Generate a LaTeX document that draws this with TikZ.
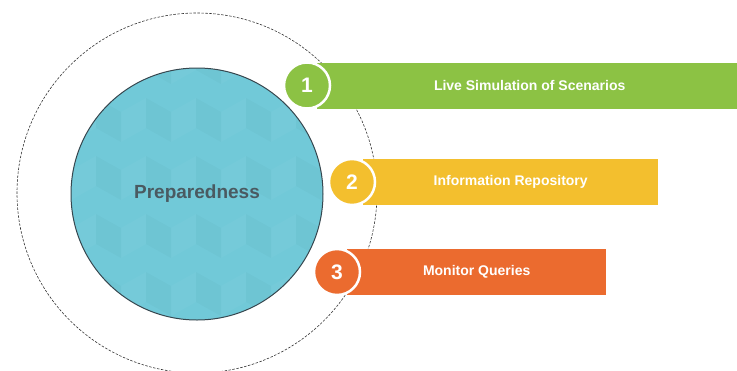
\documentclass[tikz,border=0pt]{standalone}
\usepackage{fontspec}
\setmainfont{Liberation Sans}
\usepackage{xcolor}
\usepackage{tikz}
\usetikzlibrary{positioning}

\definecolor{coreTeal}{HTML}{71C9D8}
\definecolor{coreEdge}{HTML}{37474F}
\definecolor{coreText}{HTML}{4A5A61}
\definecolor{barGreen}{HTML}{8CC244}
\definecolor{barYellow}{HTML}{F3BF2E}
\definecolor{barOrange}{HTML}{EB6B2F}

\begin{document}
\begin{tikzpicture}[x=1pt, y=-1pt,
    core/.style={draw=coreEdge, line width=1pt, circle, fill=coreTeal, minimum size=252pt, inner sep=0pt},
    coretext/.style={text=coreText, font=\fontsize{19}{22}\selectfont\bfseries},
    ring/.style={draw=black!80, circle, minimum size=360pt, inner sep=0pt, line width=0.6pt,
      dash pattern=on 2.5pt off 1.5pt},
    bar/.style={rectangle, anchor=west, minimum height=46pt, inner sep=0pt, text=white,
      font=\fontsize{14}{16}\selectfont\bfseries},
    badge/.style={circle, draw=white, line width=2.5pt, minimum size=46pt, inner sep=0pt, text=white,
      font=\fontsize{21}{24}\selectfont\bfseries}]
  \useasboundingbox (0,0) rectangle (737,370);

  \node[ring] (ring) at (197,193) {};

  \node[core] (prep) at (197,194) {};
  % faint cube pattern inside the core circle
  \begin{scope}
    \clip (197,194) circle (125pt);
    \foreach \i in {0,...,6} {
      \foreach \j in {0,...,5} {
        \fill[shift={(\i*50,\j*58)}, black, opacity=0.018] (46,40) -- (71,54) -- (71,84) -- (46,70) -- cycle;
        \fill[shift={(\i*50,\j*58)}, white, opacity=0.03] (71,54) -- (96,40) -- (96,70) -- (71,84) -- cycle;
      }
    }
  \end{scope}
  \node[coretext] (preptext) at (197,194) {Preparedness};

  \node[bar, fill=barGreen, minimum width=425pt] (bar1) at (317,85.5) {Live Simulation of Scenarios};
  \node[bar, fill=barYellow, minimum width=295pt] (bar2) at (363,182) {Information Repository};
  \node[bar, fill=barOrange, minimum width=259pt] (bar3) at (347,272) {Monitor Queries};

  \node[badge, fill=barGreen] (n1) at (307,85.5) {1};
  \node[badge, fill=barYellow] (n2) at (352,182) {2};
  \node[badge, fill=barOrange] (n3) at (337,272) {3};
\end{tikzpicture}
\end{document}
